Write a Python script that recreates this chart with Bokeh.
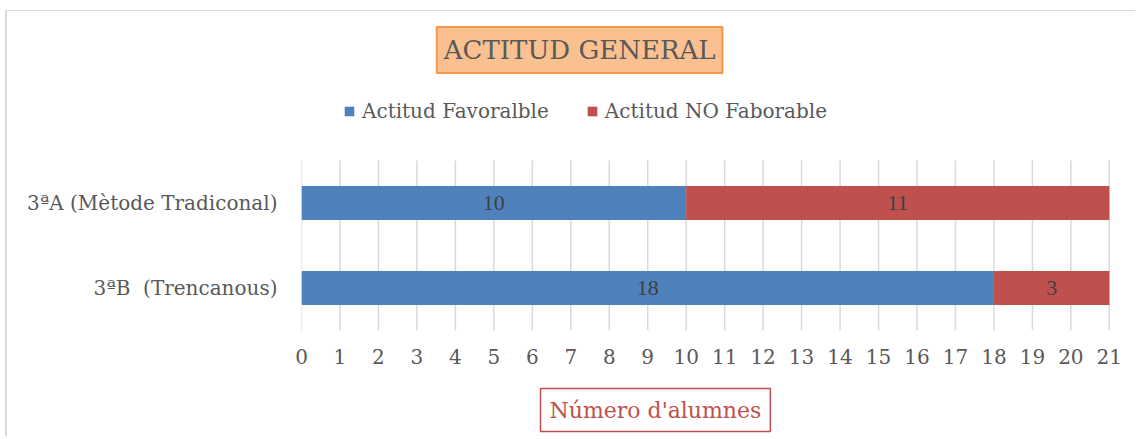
from bokeh.plotting import figure
from bokeh.models import (Range1d, Title, Legend, LegendItem, Label,
                          ColumnDataSource, FixedTicker, LabelSet)
from bokeh.embed import file_html
from bokeh.resources import INLINE

# ---- data ----
categories = ["3ªB  (Trencanous)", "3ªA (Mètode Tradiconal)"]  # bottom to top
favorable = [18, 10]
no_favorable = [3, 11]
series_names = ["Actitud Favoralble", "Actitud NO Faborable"]
x_ticks = list(range(0, 22))
title_text = "ACTITUD GENERAL"
x_label = "Número d'alumnes"

FONT = "DejaVu Serif"
BLUE = "#4F81BD"
RED = "#C0504D"
TXT = "#595959"

ypos = [i + 0.5 for i in range(len(categories))]
left2 = favorable
right2 = [a + b for a, b in zip(favorable, no_favorable)]
src = ColumnDataSource(dict(
    y=ypos,
    fav=favorable,
    zero=[0] * len(categories),
    left2=left2,
    right2=right2,
    c1=[f / 2 for f in favorable],
    c2=[l + n / 2 for l, n in zip(left2, no_favorable)],
    t1=[str(v) for v in favorable],
    t2=[str(v) for v in no_favorable],
))

p = figure(width=1130, height=426,
           y_range=Range1d(0, 3.753),
           x_range=Range1d(0, 21.03),
           output_backend="svg", toolbar_location=None,
           min_border_left=294, min_border_right=27,
           min_border_top=0, min_border_bottom=107)
p.styles = {"border-left": "2px solid #D9D9D9",
            "border-top": "1px solid #D9D9D9",
            "margin-top": "10px", "margin-left": "5px"}
p.outline_line_color = None
p.background_fill_color = "white"
p.xgrid.grid_line_color = None
p.ygrid.grid_line_color = None

# vertical grid lines over the category band only
p.segment(x0=x_ticks, y0=[0] * len(x_ticks), x1=x_ticks,
          y1=[len(categories)] * len(x_ticks),
          line_color="#D9D9D9", line_width=1.5)

r1 = p.hbar(y="y", left="zero", right="fav", height=0.4, source=src,
            fill_color=BLUE, line_color=None)
r2 = p.hbar(y="y", left="left2", right="right2", height=0.4, source=src,
            fill_color=RED, line_color=None)

for xc, tc in (("c1", "t1"), ("c2", "t2")):
    p.add_layout(LabelSet(x=xc, y="y", text=tc, source=src,
                          text_align="center", text_baseline="middle",
                          text_font_size="22px", text_color="#404040",
                          text_font=FONT))

# axes
p.xaxis.ticker = FixedTicker(ticks=x_ticks)
p.xaxis.axis_line_color = None
p.xaxis.major_tick_line_color = None
p.xaxis.major_tick_out = 0
p.xaxis.minor_tick_line_color = None
p.xaxis.major_label_text_font = FONT
p.xaxis.major_label_text_font_size = "20px"
p.xaxis.major_label_text_color = TXT
p.xaxis.major_label_standoff = 18

p.yaxis.ticker = FixedTicker(ticks=ypos)
# non-breaking space keeps the double space visible in SVG
p.yaxis.major_label_overrides = {y: c.replace("  ", "\u00a0 ")
                                 for y, c in zip(ypos, categories)}
p.yaxis.axis_line_color = None
p.yaxis.major_tick_line_color = None
p.yaxis.minor_tick_line_color = None
p.yaxis.major_tick_out = 0
p.yaxis.major_label_text_font = FONT
p.yaxis.major_label_text_font_size = "20px"
p.yaxis.major_label_text_color = TXT
p.yaxis.major_label_standoff = 24

legend = Legend(items=[LegendItem(label=series_names[0], renderers=[r1]),
                       LegendItem(label=series_names[1], renderers=[r2])],
                location=(42, 207), orientation="horizontal",
                label_text_font=FONT, label_text_font_size="20px",
                label_text_color=TXT, glyph_width=12, glyph_height=12,
                label_standoff=7, spacing=37, padding=0, margin=0,
                border_line_color=None, background_fill_alpha=0)
p.add_layout(legend, "center")

# boxed chart title
p.add_layout(Label(x=7.23, y=3.30, text=title_text, text_align="center",
                   text_baseline="middle", text_font=FONT,
                   text_font_size="26px", text_color=TXT,
                   background_fill_color="#FAC090",
                   border_line_color="#F79646", border_line_width=2,
                   padding=(7, 7, 8, 8)))

# spacer between tick labels and the boxed axis title
p.add_layout(Title(text=" ", text_font_size="12px", standoff=4), "below")

# boxed x axis title
p.add_layout(Title(text=x_label, align="left", offset=239,
                   text_font=FONT, text_font_size="22px",
                   text_font_style="normal", text_color=RED,
                   background_fill_color="white",
                   border_line_color=RED, border_line_width=1.5,
                   padding=9, standoff=0), "below")

open("out.html", "w").write(file_html(p, INLINE))
